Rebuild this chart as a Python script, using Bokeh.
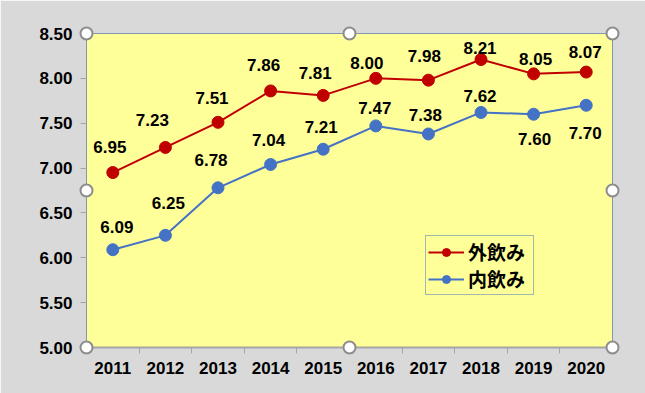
from bokeh.plotting import figure
from bokeh.models import (ColumnDataSource, FixedTicker, Range1d, Legend, LegendItem,
                          PrintfTickFormatter)
from bokeh.core.properties import value
from bokeh.embed import file_html
from bokeh.resources import INLINE

# ---- data ----
years = ["2011", "2012", "2013", "2014", "2015", "2016", "2017", "2018", "2019", "2020"]
soto_nomi = [6.95, 7.23, 7.51, 7.86, 7.81, 8.00, 7.98, 8.21, 8.05, 8.07]   # 外飲み
uchi_nomi = [6.09, 6.25, 6.78, 7.04, 7.21, 7.47, 7.38, 7.62, 7.60, 7.70]   # 内飲み
series_names = ["外飲み", "内飲み"]
y_ticks = [5.0, 5.5, 6.0, 6.5, 7.0, 7.5, 8.0, 8.5]

# data-label nudges (screen px), as placed in the original chart
soto_dx = [-3, -13, -6, -7, -8, -9, -4, -1, 2, -1]
soto_dy = [-26, -27, -24, -26, -22, -15, -24, -12, -15, -20]
uchi_dx = [4, 3, -7, -2, -2, -1, -3, -1, 1, -1]
uchi_dy = [-23, -32, -28, -24, -22, -18, -19, -16, 25, 28]

RED = "#c00000"
BLUE = "#4472c4"
YELLOW = "#ffff99"
GRAY_BG = "#d9d9d9"
FONT = "Liberation Sans"

xs = list(range(1, len(years) + 1))

p = figure(width=645, height=393, output_backend="svg", toolbar_location=None,
           x_range=Range1d(0.5, len(years) + 0.5), y_range=Range1d(y_ticks[0], y_ticks[-1]),
           min_border_left=86, min_border_right=33, min_border_top=33, min_border_bottom=46)
p.background_fill_color = YELLOW
p.border_fill_color = GRAY_BG
p.outline_line_color = "#8497b0"
p.outline_line_width = 1
p.xgrid.visible = False
p.ygrid.visible = False

# axes
p.xaxis.ticker = FixedTicker(ticks=xs, minor_ticks=[x + 0.5 for x in xs[:-1]])
p.xaxis.major_label_overrides = {x: y for x, y in zip(xs, years)}
p.xaxis.major_tick_out = 0
p.xaxis.major_tick_in = 0
p.xaxis.minor_tick_out = 6
p.xaxis.minor_tick_in = 0
p.xaxis.minor_tick_line_color = "#a6a6a6"
p.xaxis.axis_line_color = "#a6a6a6"
p.xaxis.axis_line_width = 2
p.xaxis.major_label_standoff = 8

p.yaxis.ticker = FixedTicker(ticks=y_ticks)
p.yaxis.formatter = PrintfTickFormatter(format="%.2f")
p.yaxis.major_tick_out = 6
p.yaxis.major_tick_in = 0
p.yaxis.minor_tick_line_color = None
p.yaxis.major_tick_line_color = "#a6a6a6"
p.yaxis.axis_line_color = "#8497b0"
p.yaxis.major_label_standoff = 8

for ax in (p.xaxis, p.yaxis):
    ax.major_label_text_font = FONT
    ax.major_label_text_font_size = "17px"
    ax.major_label_text_font_style = "bold"
    ax.major_label_text_color = "black"

# series
src_s = ColumnDataSource(dict(x=xs, y=soto_nomi, lab=[f"{v:.2f}" for v in soto_nomi],
                              dx=soto_dx, dy=soto_dy))
src_u = ColumnDataSource(dict(x=xs, y=uchi_nomi, lab=[f"{v:.2f}" for v in uchi_nomi],
                              dx=uchi_dx, dy=uchi_dy))

l1 = p.line("x", "y", source=src_s, line_color=RED, line_width=2)
c1 = p.scatter("x", "y", source=src_s, size=12, fill_color=RED, line_color=RED)
l2 = p.line("x", "y", source=src_u, line_color=BLUE, line_width=2)
c2 = p.scatter("x", "y", source=src_u, size=12, fill_color=BLUE, line_color=BLUE)

for src in (src_s, src_u):
    p.text("x", "y", text="lab", source=src, x_offset="dx", y_offset="dy",
           text_align="center", text_baseline="middle", text_font=value(FONT),
           text_font_size="17px", text_font_style="bold", text_color="black")

# selection handles on the plot-area corners / midpoints
hx0, hx1 = p.x_range.start, p.x_range.end
hy0, hy1 = p.y_range.start, p.y_range.end
hmx, hmy = (hx0 + hx1) / 2, (hy0 + hy1) / 2
h = p.scatter([hx0, hmx, hx1, hx0, hx1, hx0, hmx, hx1],
              [hy1, hy1, hy1, hmy, hmy, hy0, hy0, hy0],
              size=12, fill_color="white", line_color="#8c8c8c", line_width=2, level="overlay")

legend = Legend(items=[LegendItem(label=series_names[0], renderers=[l1, c1]),
                       LegendItem(label=series_names[1], renderers=[l2, c2])],
                location=(339, 52))
legend.label_text_font = "Noto Sans CJK JP"
legend.label_text_font_style = "bold"
legend.label_text_font_size = "19px"
legend.label_text_color = "black"
legend.background_fill_color = YELLOW
legend.background_fill_alpha = 1
legend.border_line_color = BLUE
legend.border_line_width = 1
legend.glyph_width = 36
legend.glyph_height = 20
legend.label_height = 20
legend.label_width = 63
legend.spacing = 0
legend.padding = 2
legend.margin = 0
legend.label_standoff = 4
p.add_layout(legend)

open("out.html", "w").write(file_html(p, INLINE))
